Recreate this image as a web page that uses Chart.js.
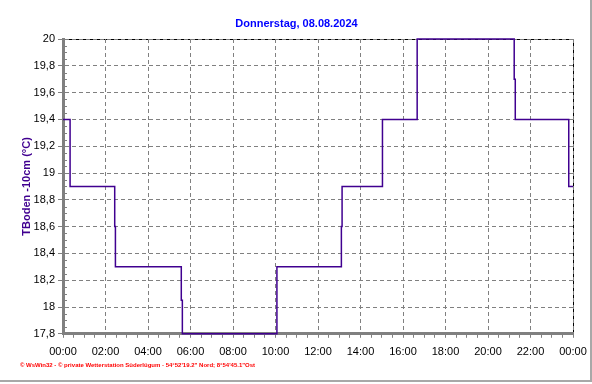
<!DOCTYPE html>
<html><head><meta charset="utf-8">
<script src="https://cdn.jsdelivr.net/npm/chart.js@4.4.1/dist/chart.umd.min.js"></script>
<style>html,body{margin:0;padding:0;background:#fff;overflow:hidden}#wrap{width:592px;height:384px;position:relative}</style>
</head><body><div id="wrap"><canvas id="c" width="592" height="384"></canvas></div>
<script>
const titleText = 'Donnerstag, 08.08.2024';
const yAxisTitle = 'TBoden -10cm (°C)';
const footerText = '\u00A9 WsWin32 - \u00A9 private Wetterstation S\u00FCderl\u00FCgum - 54\u00B052\'19.2" Nord; 8\u00B054\'45.1"Ost';
const times = ['00:00','00:20','02:26','02:28','05:34','05:37','10:04','13:06','13:08','15:02','16:40','21:14','21:17','23:48','24:00'];
const temps = [19.4, 18.9, 18.6, 18.3, 18.05, 17.8, 18.3, 18.6, 18.9, 19.4, 20.0, 19.7, 19.4, 18.9, 18.9];
const xTickLabels = ['00:00','02:00','04:00','06:00','08:00','10:00','12:00','14:00','16:00','18:00','20:00','22:00','00:00'];
const yTickLabels = ['17,8','18','18,2','18,4','18,6','18,8','19','19,2','19,4','19,6','19,8','20'];

const toHours = t => { const [h, m] = t.split(':').map(Number); return h + m / 60; };
const points = times.map((t, i) => ({ x: toHours(t), y: temps[i] }));

const GRID = '#808080';
const FONT = "'Liberation Sans', Arial, sans-serif";

const framePlugin = {
  id: 'framePlugin',
  beforeDraw(chart) {
    const { ctx, chartArea: a, width, height } = chart;
    ctx.save();
    ctx.fillStyle = '#fff';
    ctx.fillRect(0, 0, width, height);
    ctx.fillStyle = '#a8a8a8';
    ctx.fillRect(width - 2, 0, 2, height - 2);
    ctx.fillRect(0, height - 4, width, 2);
    ctx.strokeStyle = '#000';
    ctx.lineWidth = 1;
    ctx.beginPath();
    ctx.moveTo(a.left, Math.round(a.top) + 0.5);
    ctx.lineTo(Math.round(a.right) + 0.5, Math.round(a.top) + 0.5);
    ctx.lineTo(Math.round(a.right) + 0.5, a.bottom);
    ctx.stroke();
    ctx.restore();
  },
  afterDraw(chart) {
    const { ctx, chartArea: a } = chart;
    const ys = chart.scales.y;
    ctx.save();
    ctx.strokeStyle = GRID;
    ctx.lineWidth = 1;
    ctx.beginPath();
    for (let k = 0; k <= 44; k++) {
      if (k % 4 === 0) continue;
      const v = ys.min + k * 0.05;
      const py = Math.round(ys.getPixelForValue(v)) + 0.5;
      ctx.moveTo(a.left, py);
      ctx.lineTo(a.left + 4, py);
    }
    ctx.stroke();
    ctx.restore();
  }
};

new Chart(document.getElementById('c'), {
  type: 'line',
  data: {
    datasets: [{
      data: points,
      stepped: true,
      borderColor: '#400090',
      borderWidth: 1.5,
      pointRadius: 0,
      fill: false,
      tension: 0,
      clip: false
    }]
  },
  options: {
    responsive: false,
    devicePixelRatio: 1,
    animation: false,
    layout: { padding: { left: 20, right: 19, top: 0, bottom: 15 } },
    plugins: {
      legend: { display: false },
      tooltip: { enabled: false },
      title: {
        display: true, text: titleText, color: '#0000FF',
        font: { family: FONT, size: 11, weight: 'bold', lineHeight: 1.2 },
        padding: { top: 17.4, bottom: 8.4 }
      },
      subtitle: {
        display: true, text: footerText, position: 'bottom', align: 'start', color: '#FF0000',
        font: { family: "'Liberation Sans Narrow', 'Liberation Sans', Arial, sans-serif", size: 6, weight: 'bold', lineHeight: 1.2 },
        padding: { top: 2, bottom: 0 }
      }
    },
    scales: {
      x: {
        type: 'linear', min: 0, max: 24,
        afterFit(s) { s.height = 26; s.paddingLeft = 0; s.paddingRight = 0; },
        ticks: {
          stepSize: 0.5, autoSkip: false, maxRotation: 0, padding: 8, color: '#000',
          font: { family: FONT, size: 11 },
          callback(v) { const q = v / 2; return Math.abs(q - Math.round(q)) < 1e-6 ? xTickLabels[Math.round(q)] : ''; }
        },
        grid: {
          color: c => (c.tick && Math.abs(c.tick.value / 2 - Math.round(c.tick.value / 2)) < 1e-6) ? GRID : 'rgba(0,0,0,0)',
          lineWidth: 1, tickLength: 4, tickColor: GRID
        },
        border: { display: true, color: GRID, width: 3, dash: [4, 3] }
      },
      y: {
        min: 17.8, max: 20,
        afterFit(s) { s.width = 43; s.paddingTop = 0; s.paddingBottom = 0; },
        title: {
          display: true, text: yAxisTitle, color: '#400090',
          font: { family: FONT, size: 11, weight: 'bold', lineHeight: 1.2 },
          padding: { top: 0, bottom: 0 }
        },
        ticks: {
          stepSize: 0.2, autoSkip: false, padding: 3, color: '#000',
          font: { family: FONT, size: 11 },
          callback(v) { return yTickLabels[Math.round((v - 17.8) / 0.2)]; }
        },
        grid: { color: GRID, lineWidth: 1, tickLength: 5, tickColor: GRID },
        border: { display: true, color: GRID, width: 3, dash: [4, 3] }
      }
    }
  },
  plugins: [framePlugin]
});
</script>
</body></html>
